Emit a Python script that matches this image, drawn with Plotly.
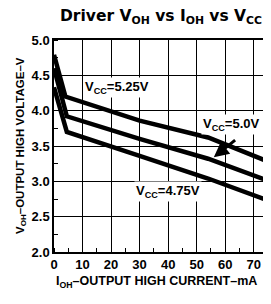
import plotly.graph_objects as go

i_top = [0, 4, 30, 54, 75]
v_top = [4.79, 4.20, 3.86, 3.62, 3.28]
i_mid = [0, 4.5, 30, 54, 75]
v_mid = [4.60, 3.92, 3.60, 3.32, 3.01]
i_bot = [0, 4.5, 30, 54, 75]
v_bot = [4.33, 3.70, 3.36, 3.04, 2.73]

x_ticks = [0, 10, 20, 30, 40, 50, 60, 70]
y_ticks = [2.0, 2.5, 3.0, 3.5, 4.0, 4.5, 5.0]

FONT = "Liberation Sans Narrow, Liberation Sans, Arial, sans-serif"
TICKFONT = "Liberation Sans, Arial, sans-serif"

fig = go.Figure()
for xs, ys in [(i_top, v_top), (i_mid, v_mid), (i_bot, v_bot)]:
    fig.add_trace(go.Scatter(x=xs, y=ys, mode="lines",
                             line=dict(color="black", width=4.5),
                             showlegend=False, hoverinfo="skip"))

# page body has an 8px default margin, so the figure is sized to fit the window
fig.update_layout(
    width=263, height=296,
    margin=dict(l=46, r=3, t=32, b=52),
    paper_bgcolor="white", plot_bgcolor="white",
    font=dict(family=FONT, color="black"),
    xaxis=dict(range=[0, 75], tickvals=x_ticks, ticktext=[str(v) for v in x_ticks],
               showgrid=True, gridcolor="black", gridwidth=1,
               showline=True, linecolor="black", linewidth=1.5, mirror=True,
               ticks="", zeroline=False, automargin=False,
               tickfont=dict(size=13, family=TICKFONT, weight="bold"),
               minor=dict(dtick=5, ticks="inside", ticklen=4, tickcolor="black", showgrid=False)),
    yaxis=dict(range=[2, 5], tickvals=y_ticks, ticktext=[f"{v:.1f}" for v in y_ticks],
               showgrid=True, gridcolor="black", gridwidth=1,
               showline=True, linecolor="black", linewidth=1.5, mirror=True,
               ticks="", zeroline=False, automargin=False,
               tickfont=dict(size=13, family=TICKFONT, weight="bold"),
               minor=dict(dtick=0.25, ticks="inside", ticklen=4, tickcolor="black", showgrid=False)),
)

fig.add_annotation(text="Driver V<sub>OH</sub> vs I<sub>OH</sub> vs V<sub>CC</sub>",
                   xref="paper", yref="paper", x=0.5, y=1.0, yshift=23,
                   xanchor="center", yanchor="middle", showarrow=False,
                   font=dict(size=15.5, family="DejaVu Sans, Liberation Sans, sans-serif", weight="bold"))
fig.add_annotation(text="V<sub>OH</sub>–OUTPUT HIGH VOLTAGE–V",
                   xref="paper", yref="paper", x=0, xshift=-42, y=0.5,
                   textangle=-90, showarrow=False,
                   font=dict(size=11.5, family=FONT, weight="bold"))
fig.add_annotation(text="I<sub>OH</sub>–OUTPUT HIGH CURRENT–mA",
                   xref="paper", yref="paper", x=0.48, y=0, yshift=-40,
                   showarrow=False,
                   font=dict(size=12.5, family=FONT, weight="bold"))

lab_font = dict(size=13, family=FONT, weight="bold")
fig.add_annotation(text="V<sub>CC</sub>=5.25V", x=22, y=4.33, showarrow=False,
                   bgcolor="white", font=lab_font)
fig.add_annotation(text="V<sub>CC</sub>=4.75V", x=40, y=2.86, showarrow=False,
                   bgcolor="white", font=lab_font)
fig.add_annotation(text="V<sub>CC</sub>=5.0V", x=62, y=3.80, showarrow=False,
                   bgcolor="white", font=lab_font)
fig.add_annotation(x=56, y=3.34, ax=64, ay=3.60, axref="x", ayref="y",
                   text="", showarrow=True, arrowhead=2, arrowsize=1,
                   arrowwidth=3, arrowcolor="black")

fig.write_html("out.html")
